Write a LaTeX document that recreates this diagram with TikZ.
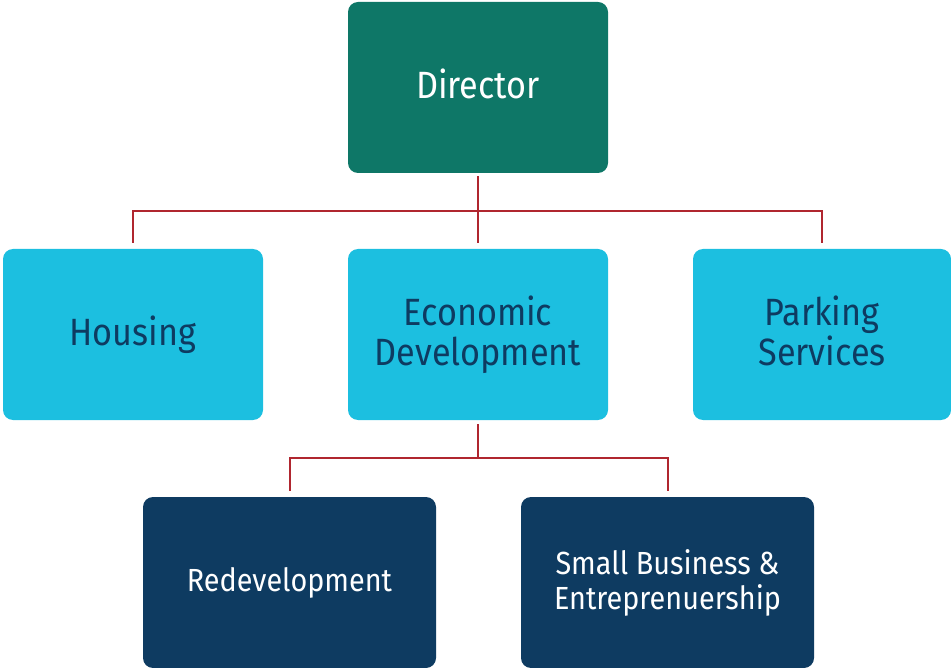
\documentclass[tikz,border=0pt]{standalone}
\usepackage{fontspec}
\setmainfont{Fira Sans}[FakeStretch=0.9]
\definecolor{teal1}{HTML}{0E7767}
\definecolor{cyan1}{HTML}{1CBFE0}
\definecolor{navy1}{HTML}{0E3B61}
\definecolor{red1}{HTML}{B0262F}
\tikzset{
  box/.style={rectangle, rounded corners=10pt, inner sep=0pt, align=center, minimum height=171pt},
  topbox/.style={box, fill=teal1, text=white, minimum width=260pt, text depth=8pt, font=\fontsize{38}{40}\selectfont},
  midbox/.style={box, fill=cyan1, text=navy1, minimum width=260pt, text depth=8pt, font=\fontsize{38}{40}\selectfont},
  lowbox/.style={box, fill=navy1, text=white, minimum width=293pt, font=\fontsize{32}{35}\selectfont},
  conn/.style={draw=red1, line width=2pt}
}
\begin{document}
\begin{tikzpicture}[x=1pt,y=-1pt]
\useasboundingbox (0,0) rectangle (951,668);
\node[topbox] (dir) at (478,87.5) {Director};
\node[midbox] (hous) at (133,334.5) {Housing};
\node[midbox] (econ) at (478,334.5) {Economic\\Development};
\node[midbox, minimum width=258pt] (park) at (822,334.5) {Parking\\Services};
\node[lowbox] (redev) at (289.5,582.5) {Redevelopment};
\node[lowbox] (small) at (667.5,582.5) {Small Business \&\\Entreprenuership};
\coordinate (bus1) at (478,211);
\coordinate (bus2) at (478,458);
\draw[conn] ([yshift=-3pt]dir.south) -- ([yshift=6pt]econ.north);
\draw[conn] ([yshift=6pt]hous.north) |- (bus1) -| ([yshift=6pt]park.north);
\draw[conn] ([yshift=-4pt]econ.south) -- (bus2);
\draw[conn] ([yshift=6pt]redev.north) |- (bus2) -| ([yshift=6pt]small.north);
\end{tikzpicture}
\end{document}
